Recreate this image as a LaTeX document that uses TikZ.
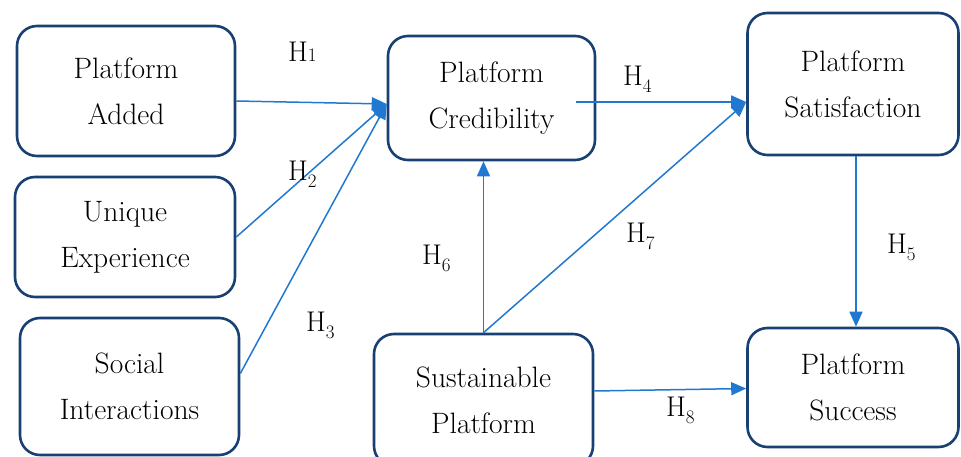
\documentclass[tikz,border=0pt]{standalone}
\usepackage{tikz}
\usetikzlibrary{arrows.meta}
\definecolor{navy}{rgb}{0.10, 0.25, 0.45}
\definecolor{hblue}{rgb}{0.13, 0.47, 0.82}
\tikzstyle{construct}=[draw=navy,line width=2.6pt,rounded corners=20pt,fill=white,align=center,font=\fontsize{29.5}{46}\selectfont,inner sep=0pt]
\tikzstyle{hypo}=[color=hblue,line width=1.5pt,->]
\tikzstyle{hlabel}=[anchor=base west,inner sep=0pt,font=\fontsize{28.5}{30}\selectfont]
\newcommand{\hyp}[1]{H\raisebox{-7pt}{\fontsize{19}{19}\selectfont #1}}

\begin{document}
\begin{tikzpicture}[x=1pt,y=-1pt,>={Triangle[length=15pt,width=13pt]}]

  \useasboundingbox (0,0) rectangle (961,457);

  % CONSTRUCTS
  \node[construct,minimum width=218pt,minimum height=130pt] (add)  at (126,91)    {Platform\\Added};
  \node[construct,minimum width=220pt,minimum height=120pt] (uniq) at (125,237)   {Unique\\Experience};
  \node[construct,minimum width=219pt,minimum height=137pt] (soc)  at (129.5,386.5) {Social\\Interactions};
  \node[construct,minimum width=207pt,minimum height=124pt] (cred) at (491.5,98)  {Platform\\Credibility};
  \node[construct,minimum width=219pt,minimum height=132pt] (sust) at (483.5,400) {Sustainable\\Platform};
  \node[construct,minimum width=211pt,minimum height=142pt] (sat)  at (853,84)    {Platform\\Satisfaction};
  \node[construct,minimum width=211pt,minimum height=119pt] (succ) at (853,387.5) {Platform\\Success};

  % ENTRY POINTS
  \coordinate (cin) at ([yshift=-6pt]cred.west);
  \coordinate (sin) at ([yshift=-18pt]sat.west);

  % HYPOTHESES
  \draw[hypo] ([yshift=-10pt]add.east) -- (cin);
  \draw[hypo] (uniq.east) -- (cin);
  \draw[hypo] ([yshift=13pt]soc.east) -- (cin);
  \draw[hypo] ([xshift=-20pt,yshift=-4pt]cred.east) -- (sin);
  \draw[hypo] ([xshift=3pt]sat.south) -- ([xshift=3pt]succ.north);
  \draw[hypo] (sust.north) -- (sust.north |- cred.south);
  \draw[hypo] (sust.north) -- (sin);
  \draw[hypo] ([yshift=9pt]sust.east) -- ([yshift=-1pt]succ.west);

  % LABELS
  \node[hlabel] (h1) at (288,62)  {H{\fontsize{19}{19}\selectfont 1}};
  \node[hlabel] (h2) at (288,181) {\hyp{2}};
  \node[hlabel] (h3) at (306,331) {\hyp{3}};
  \node[hlabel] (h4) at (623,86)  {\hyp{4}};
  \node[hlabel] (h5) at (887,253) {\hyp{5}};
  \node[hlabel] (h6) at (422,264) {\hyp{6}};
  \node[hlabel] (h7) at (626,243) {\hyp{7}};
  \node[hlabel] (h8) at (666,416) {\hyp{8}};

\end{tikzpicture}
\end{document}
